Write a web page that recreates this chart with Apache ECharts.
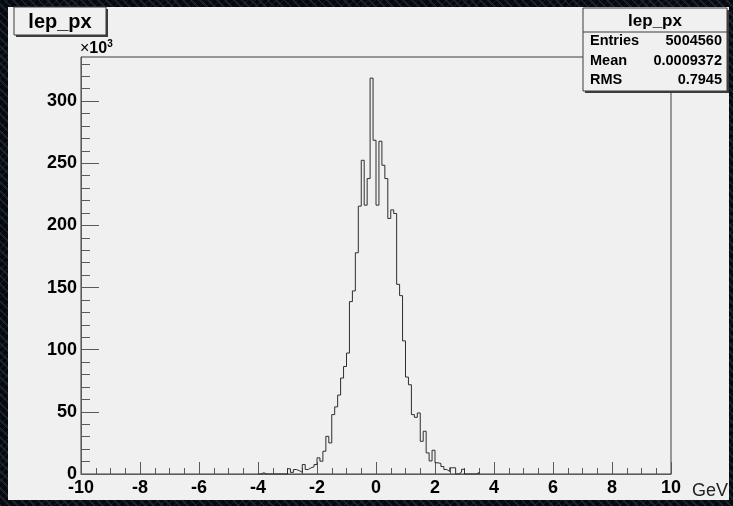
<!DOCTYPE html>
<html>
<head>
<meta charset="utf-8">
<script src="https://cdn.jsdelivr.net/npm/echarts@6/dist/echarts.min.js"></script>
<style>
  html, body {
    margin: 0; padding: 0; width: 733px; height: 506px; overflow: hidden;
    background-color: #05080c;
    background-image:
      repeating-linear-gradient(45deg, rgba(38, 52, 68, 0.55) 0 2px, transparent 2px 6px),
      repeating-linear-gradient(-45deg, rgba(30, 42, 56, 0.45) 0 1px, transparent 1px 5px);
  }
  #chart { width: 733px; height: 506px; }
</style>
</head>
<body>
<div id="chart"></div>
<script>
// lep_px histogram, 0.1 GeV bins; counts are in units of 10^3 entries
const histName = 'lep_px';
const binStart = -4.0;
const binWidth = 0.1;
const counts = [
  // -4.0 .. -3.1
  0, 1.0, 0, 0, 0, 0, 0, 0, 0, 0,
  // -3.0 .. -2.1
  4.2, 1.3, 3.6, 2.7, 1.3, 7.6, 3.6, 5.0, 5.8, 7.6,
  // -2.0 .. -1.1
  13.0, 10.3, 18.3, 30.3, 25.0, 47.8, 54.0, 63.5, 77.2, 86.5,
  // -1.0 .. -0.1
  97.3, 138.7, 147.3, 178.0, 215.5, 252.4, 216.3, 237.7, 318.5, 268.5,
  // 0.0 .. 0.9
  216.3, 267.7, 248.4, 237.7, 205.6, 212.5, 209.6, 152.6, 143.5, 107.1,
  // 1.0 .. 1.9
  78.0, 71.8, 47.8, 45.6, 49.1, 26.3, 34.4, 17.0, 10.5, 19.1,
  // 2.0 .. 2.9
  9.0, 8.5, 6.0, 3.6, 2.0, 5.0, 5.0, 0, 1.5, 3.8,
  // 3.0 .. 3.4
  0, 0, 0, 0, 1.2
];

// axis ticks
const xTickLabels = [-10, -8, -6, -4, -2, 0, 2, 4, 6, 8, 10];
const yTickLabels = [0, 50, 100, 150, 200, 250, 300];
const yMinorTicks = [10, 20, 30, 40, 60, 70, 80, 90, 110, 120, 130, 140, 160, 170, 180, 190,
                     210, 220, 230, 240, 260, 270, 280, 290, 310, 320, 330];
const yMax = 335.5;
const xUnit = 'GeV';

// stats box contents
const statRows = [
  ['Entries', '5004560'],
  ['Mean', '0.0009372'],
  ['RMS', '0.7945']
];

// step outline: one point per bin low edge, closed at the last upper edge
const steps = counts.map((c, i) => [+(binStart + i * binWidth).toFixed(2), c]);
steps.push([+(binStart + counts.length * binWidth).toFixed(2), 0]);

const FONT = '"Liberation Sans", Arial, Helvetica, sans-serif';
const AXIS_COLOR = '#5a5a5a';

const chart = echarts.init(document.getElementById('chart'), null, { renderer: 'canvas' });

const statsX = 583, statsY = 8, statsW = 144, statsH = 83, statsHead = 24;
const statsElements = [
  { type: 'rect', shape: { x: statsX + 2, y: statsY + 2, width: statsW, height: statsH },
    style: { fill: '#3c3c3c' } },
  { type: 'rect', shape: { x: statsX, y: statsY, width: statsW, height: statsH },
    style: { fill: '#f0f0f0', stroke: '#3c3c3c', lineWidth: 1 } },
  { type: 'line', shape: { x1: statsX, y1: statsY + statsHead, x2: statsX + statsW, y2: statsY + statsHead },
    style: { stroke: '#3c3c3c', lineWidth: 1 } },
  { type: 'text', x: statsX + statsW / 2, y: statsY + statsHead / 2 + 1,
    style: { text: histName, font: 'bold 17px ' + FONT, fill: '#000', align: 'center', verticalAlign: 'middle' } }
];
statRows.forEach((row, k) => {
  const cy = statsY + statsHead + 9 + k * 19.5;
  statsElements.push(
    { type: 'text', x: statsX + 7, y: cy,
      style: { text: row[0], font: 'bold 14.5px ' + FONT, fill: '#000', align: 'left', verticalAlign: 'middle' } },
    { type: 'text', x: statsX + statsW - 5, y: cy,
      style: { text: row[1], font: 'bold 14.5px ' + FONT, fill: '#000', align: 'right', verticalAlign: 'middle' } }
  );
});

const option = {
  animation: false,
  backgroundColor: 'transparent',
  graphic: [
    // canvas pad
    { type: 'rect', z: -10, silent: true, shape: { x: 8, y: 7, width: 721, height: 493 },
      style: { fill: '#f0f0f0' } },
    // title box
    { type: 'group', z: 100, children: [
      { type: 'rect', shape: { x: 16, y: 9, width: 92, height: 28 }, style: { fill: '#3c3c3c' } },
      { type: 'rect', shape: { x: 14, y: 7, width: 92, height: 28 },
        style: { fill: '#f0f0f0', stroke: '#3c3c3c', lineWidth: 1 } },
      { type: 'text', x: 60, y: 22,
        style: { text: histName, font: 'bold 20px ' + FONT, fill: '#000', align: 'center', verticalAlign: 'middle' } }
    ]},
    // stats box
    { type: 'group', z: 100, children: statsElements },
    // y-axis exponent
    { type: 'text', z: 100, x: 80, y: 57,
      style: {
        text: '{m|×}{b|10}{s|3}',
        verticalAlign: 'bottom',
        rich: {
          m: { font: '16px ' + FONT, fill: '#000', verticalAlign: 'bottom' },
          b: { font: 'bold 16px ' + FONT, fill: '#000', verticalAlign: 'bottom' },
          s: { font: 'bold 10px ' + FONT, fill: '#000', verticalAlign: 'top', padding: [0, 0, 8, 0] }
        }
      } },
    // x-axis unit
    { type: 'text', z: 100, x: 728, y: 491,
      style: { text: xUnit, font: '18px ' + FONT, fill: '#222', align: 'right', verticalAlign: 'middle' } }
  ],
  grid: {
    left: 81, top: 57, width: 590, height: 417,
    show: true, borderColor: '#3c3c3c', borderWidth: 1, backgroundColor: 'transparent'
  },
  xAxis: {
    type: 'value', min: -10, max: 10, interval: 2,
    axisLine: { show: true, onZero: false, lineStyle: { color: AXIS_COLOR, width: 1 } },
    axisTick: { show: true, inside: true, length: 12, customValues: xTickLabels,
      lineStyle: { color: AXIS_COLOR, width: 1 } },
    minorTick: { show: true, splitNumber: 4, length: 6, lineStyle: { color: AXIS_COLOR, width: 1 } },
    splitLine: { show: false },
    axisLabel: { customValues: xTickLabels, margin: 5, color: '#000',
      fontFamily: FONT, fontWeight: 'bold', fontSize: 18 }
  },
  yAxis: [
    {
      type: 'value', min: 0, max: yMax, position: 'left',
      axisLine: { show: true, onZero: false, lineStyle: { color: AXIS_COLOR, width: 1 } },
      axisTick: { show: true, inside: true, length: 18, customValues: yTickLabels,
        lineStyle: { color: AXIS_COLOR, width: 1 } },
      splitLine: { show: false },
      axisLabel: { customValues: yTickLabels, margin: 4, color: '#000',
        fontFamily: FONT, fontWeight: 'bold', fontSize: 18 }
    },
    {
      type: 'value', min: 0, max: yMax, position: 'left', offset: 0,
      axisLine: { show: false, onZero: false },
      axisTick: { show: true, inside: true, length: 9, customValues: yMinorTicks,
        lineStyle: { color: AXIS_COLOR, width: 1 } },
      splitLine: { show: false },
      axisLabel: { show: false }
    }
  ],
  series: [{
    name: histName,
    type: 'line',
    step: 'end',
    data: steps,
    symbol: 'none',
    clip: true,
    lineStyle: { color: '#2e2e2e', width: 1 },
    z: 5
  }]
};

chart.setOption(option);
</script>
</body>
</html>
